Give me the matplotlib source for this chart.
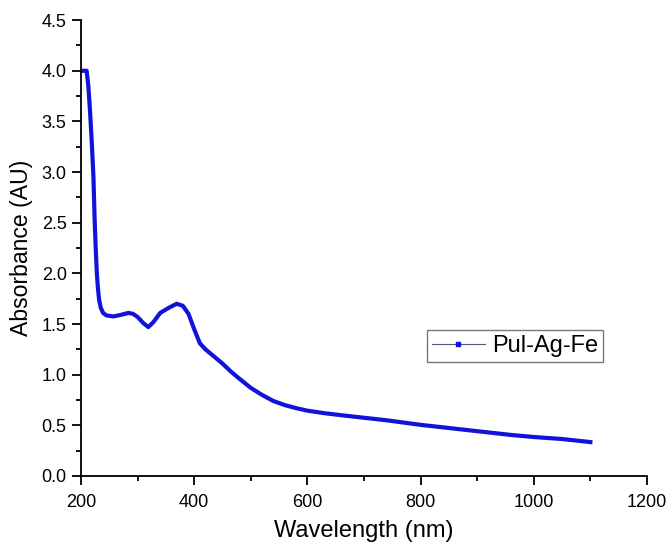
import matplotlib
matplotlib.use("Agg")
import matplotlib.pyplot as plt
from matplotlib.ticker import MultipleLocator, FormatStrFormatter

plt.rcParams['font.family'] = ['Liberation Sans', 'DejaVu Sans']

# UV-Vis spectrum
wavelength = [200, 205, 210, 213, 216, 219, 222, 224, 226, 228, 230, 232, 235, 239,
              245, 257, 270, 284, 292, 300, 310, 319, 328, 340, 355, 369, 380, 390,
              400, 410, 420, 435, 450, 465, 480, 500, 520, 540, 560, 580, 600,
              630, 660, 700, 740, 780, 800, 840, 880, 920, 960, 1000, 1050, 1100]
absorbance = [4.00, 4.00, 4.00, 3.85, 3.60, 3.30, 2.95, 2.55, 2.25, 2.00, 1.85, 1.74, 1.66, 1.61,
              1.585, 1.575, 1.59, 1.61, 1.60, 1.57, 1.51, 1.47, 1.52, 1.61, 1.66, 1.70, 1.68, 1.60,
              1.45, 1.31, 1.25, 1.18, 1.11, 1.03, 0.96, 0.87, 0.80, 0.74, 0.70, 0.67, 0.645,
              0.62, 0.60, 0.575, 0.55, 0.52, 0.505, 0.48, 0.455, 0.43, 0.405, 0.385, 0.365, 0.335]

fig = plt.figure(figsize=(6.71, 5.44), dpi=100)
ax = fig.add_axes([0.1207, 0.125, 0.8435, 0.838])

ax.plot(wavelength, absorbance, color='#1212da', linewidth=3.0)

ax.set_xlim(200, 1200)
ax.set_ylim(0, 4.5)
ax.xaxis.set_major_locator(MultipleLocator(200))
ax.xaxis.set_minor_locator(MultipleLocator(100))
ax.yaxis.set_major_locator(MultipleLocator(0.5))
ax.yaxis.set_minor_locator(MultipleLocator(0.25))
ax.yaxis.set_major_formatter(FormatStrFormatter('%.1f'))

ax.spines['top'].set_visible(False)
ax.spines['right'].set_visible(False)
for s in ['left', 'bottom']:
    ax.spines[s].set_linewidth(1.3)
ax.tick_params(which='major', direction='out', length=6.8, width=1.3, labelsize=13, pad=3.5)
ax.tick_params(axis='x', which='major', pad=6)
ax.tick_params(which='minor', direction='out', length=3.3, width=1.3)

ax.set_xlabel('Wavelength (nm)', fontsize=17, labelpad=7)
ax.set_ylabel('Absorbance (AU)', fontsize=16.6, labelpad=6)

# legend with a thin line and a small square marker
h, = ax.plot([], [], color='#55557a', linewidth=0.8, marker='s', markersize=2.5,
             markerfacecolor='#1212da', markeredgecolor='#1212da')
leg = ax.legend([h], ['Pul-Ag-Fe'], loc='upper left', bbox_to_anchor=(0.611, 0.32),
                borderaxespad=0, fontsize=17, frameon=True, fancybox=False,
                handlelength=2.25, borderpad=0.2, handletextpad=0.3)
leg.get_frame().set_edgecolor('#555555')
leg.get_frame().set_linewidth(1.0)

fig.savefig('out.png', dpi=100)
